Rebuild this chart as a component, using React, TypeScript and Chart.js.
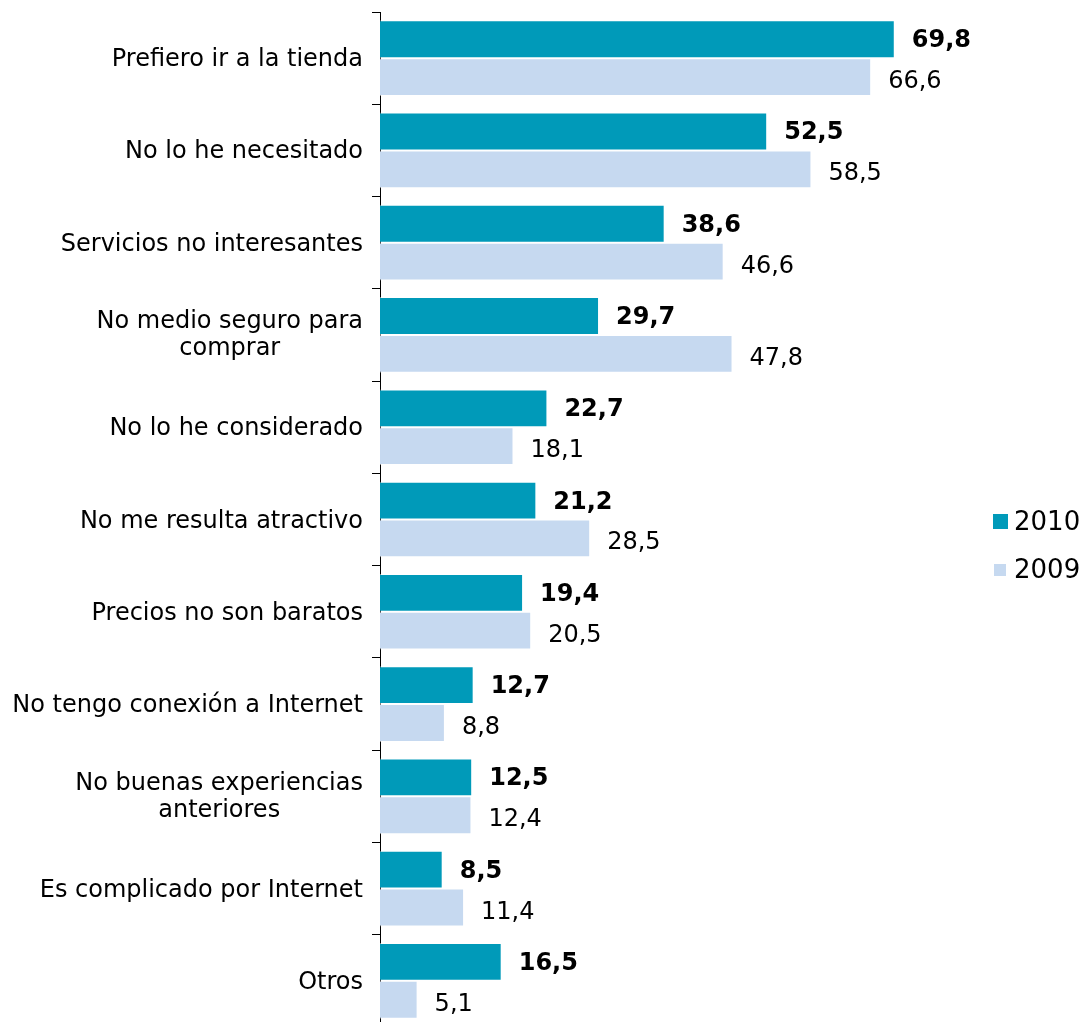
import React, { useEffect, useRef } from "react";
import { Chart, registerables } from "chart.js";

Chart.register(...registerables);

const categories: string[][] = [
  ["Prefiero ir a la tienda"],
  ["No lo he necesitado"],
  ["Servicios no interesantes"],
  ["No medio seguro para", "comprar"],
  ["No lo he considerado"],
  ["No me resulta atractivo"],
  ["Precios no son baratos"],
  ["No tengo conexión a Internet"],
  ["No buenas experiencias", "anteriores"],
  ["Es complicado por Internet"],
  ["Otros"],
];
const values2010 = [69.8, 52.5, 38.6, 29.7, 22.7, 21.2, 19.4, 12.7, 12.5, 8.5, 16.5];
const values2009 = [66.6, 58.5, 46.6, 47.8, 18.1, 28.5, 20.5, 8.8, 12.4, 11.4, 5.1];
const seriesNames = ["2010", "2009"];
const colors = ["#009ab9", "#c6d9f0"];

const FONT = "'DejaVu Sans', Verdana, sans-serif";

const fmt = (v: number) => v.toFixed(1).replace(".", ",");

const customPlugin = {
  id: "custom",
  afterDraw(chart: any) {
    const ctx = chart.ctx;
    const yScale = chart.scales.y;
    ctx.save();
    // Category labels
    ctx.fillStyle = "#000";
    ctx.font = `24px ${FONT}`;
    ctx.textBaseline = "alphabetic";
    ctx.textAlign = "center";
    const lineH = 27;
    const right = chart.chartArea.left - 17;
    categories.forEach((lines, i) => {
      const yc = yScale.getPixelForValue(i);
      const w = Math.max(...lines.map((l) => ctx.measureText(l).width));
      const cx = right - w / 2;
      const y0 = yc + (lines.length > 1 ? 7 : 8) - ((lines.length - 1) * lineH) / 2;
      lines.forEach((l, j) => ctx.fillText(l, cx, y0 + j * lineH));
    });
    // Data labels
    ctx.textAlign = "left";
    chart.data.datasets.forEach((ds: any, di: number) => {
      const meta = chart.getDatasetMeta(di);
      ctx.font = di === 0 ? `bold 24px ${FONT}` : `24px ${FONT}`;
      const off = di === 0 ? 8 : 11;
      meta.data.forEach((bar: any, i: number) => {
        ctx.fillText(fmt(ds.data[i]), bar.x + 17, bar.y + off);
      });
    });
    // Legend
    ctx.textBaseline = "middle";
    ctx.font = `26px ${FONT}`;
    ctx.fillStyle = colors[0];
    ctx.fillRect(993, 514, 15, 15);
    ctx.fillStyle = colors[1];
    ctx.fillRect(994, 564, 12, 12);
    ctx.fillStyle = "#000";
    ctx.fillText(seriesNames[0], 1014, 523);
    ctx.fillText(seriesNames[1], 1014, 571);
    ctx.restore();
  },
};

export default function App() {
  const ref = useRef<HTMLCanvasElement>(null);
  useEffect(() => {
    document.body.style.margin = "0";
    document.body.style.overflow = "hidden";
    document.documentElement.style.overflow = "hidden";
    const chart = new Chart(ref.current!, {
      type: "bar",
      data: {
        labels: categories.map((c) => c.join(" ")),
        datasets: [
          {
            label: seriesNames[0],
            data: values2010,
            backgroundColor: colors[0],
            borderColor: "rgba(255,255,255,0.5)",
            borderWidth: 1,
          },
          {
            label: seriesNames[1],
            data: values2009,
            backgroundColor: colors[1],
            borderColor: "rgba(255,255,255,0.5)",
            borderWidth: 1,
          },
        ],
      },
      options: {
        indexAxis: "y",
        animation: false,
        responsive: false,
        devicePixelRatio: 1,
        layout: { padding: { top: 12, bottom: 5, right: 114, left: 0 } },
        datasets: { bar: { categoryPercentage: 0.82, barPercentage: 1 } },
        plugins: { legend: { display: false }, tooltip: { enabled: false } },
        scales: {
          x: { display: false, min: 0, max: 80 },
          y: {
            afterFit: (s: any) => {
              s.width = 380;
            },
            ticks: { display: false },
            grid: {
              drawOnChartArea: false,
              color: "#000",
              tickLength: 8,
              offset: true,
            },
            border: { color: "#000", width: 1 },
          },
        },
      },
      plugins: [customPlugin],
    });
    return () => chart.destroy();
  }, []);
  return (
    <div style={{ width: 1084, height: 1022, overflow: "hidden" }}>
      <canvas ref={ref} width={1084} height={1032} />
    </div>
  );
}
